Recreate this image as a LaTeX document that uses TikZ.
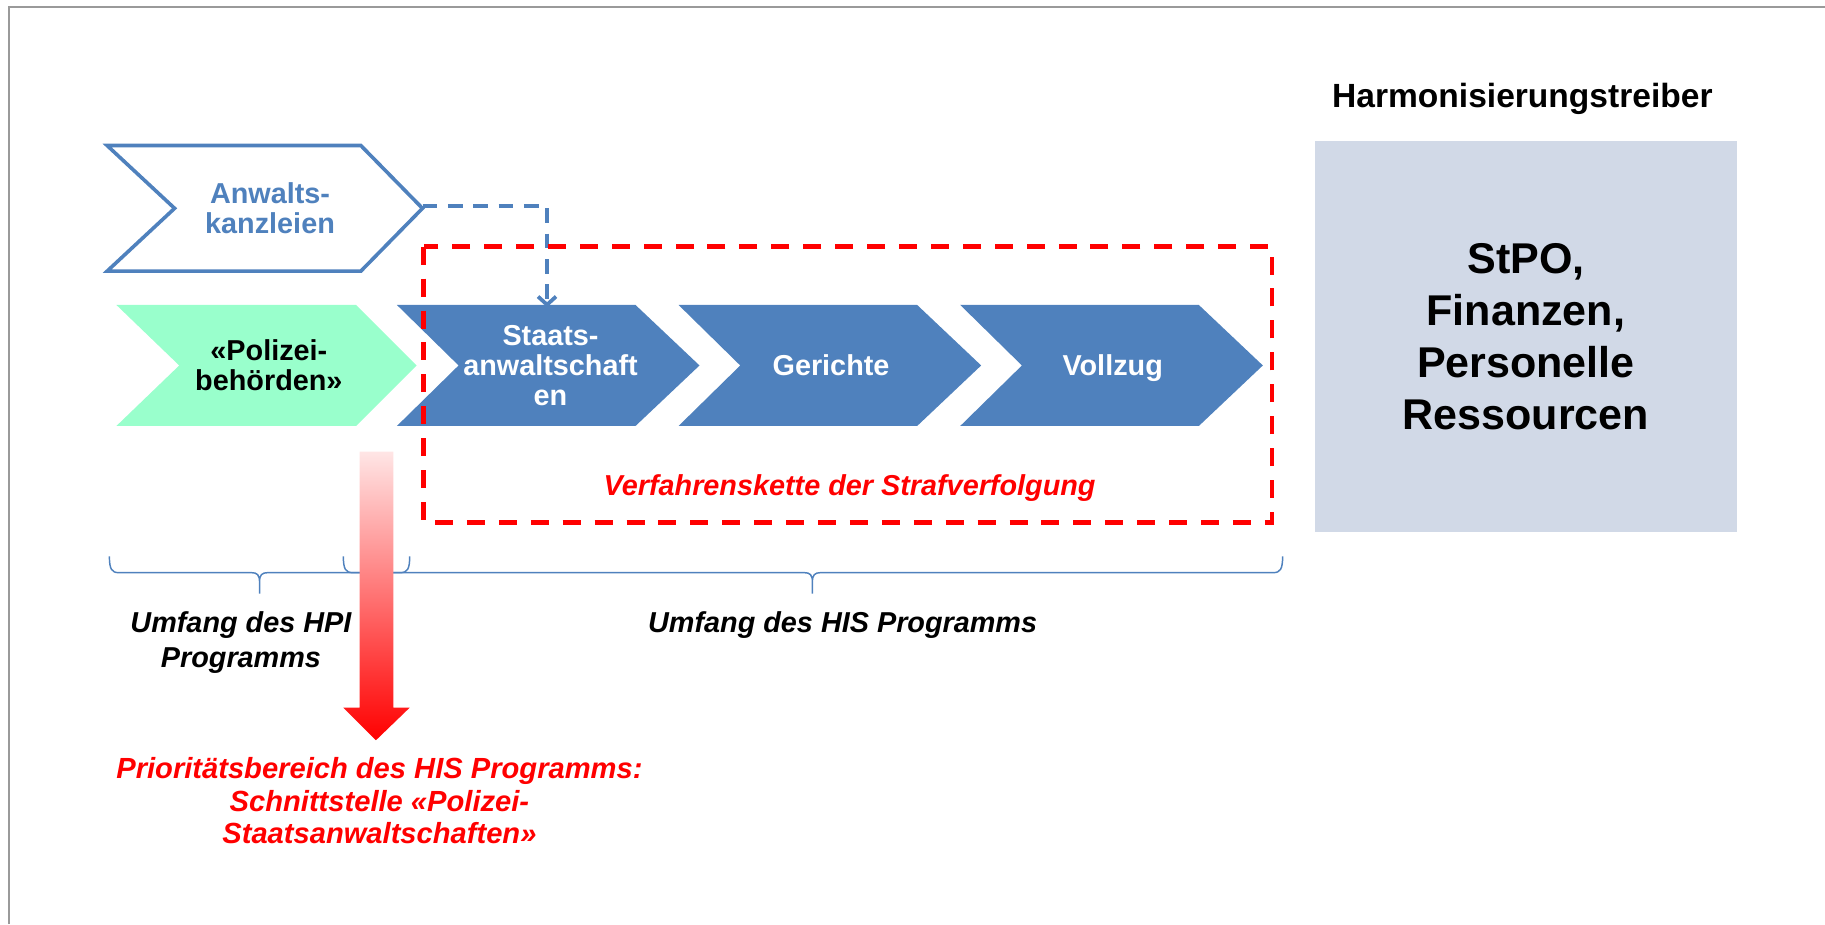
\documentclass[tikz,border=0pt]{standalone}
\usepackage{fontspec}
\setmainfont{Liberation Sans}
\usepackage{xcolor}
\usepackage{tikz}
\usetikzlibrary{arrows.meta}
\usetikzlibrary{calc}

\definecolor{chainblue}{HTML}{4F81BD}
\definecolor{policegreen}{HTML}{99FFCC}
\definecolor{driverbox}{HTML}{D1D9E7}
\definecolor{framegray}{HTML}{9A9A9A}

\begin{document}
\begin{tikzpicture}[x=0.025cm, y=-0.025cm, semithick]
	\tikzstyle{chevtext}=[align=center, inner sep=0pt, font=\fontsize{17.6}{18.5}\selectfont\bfseries]
	\tikzstyle{scopetext}=[align=center, inner sep=0pt, font=\fontsize{17.6}{21}\selectfont\bfseries\itshape]
	\tikzstyle{scopebrace}=[draw=chainblue, line width=0.9pt]
	\useasboundingbox (0,0) rectangle (1568,794);
	\draw[framegray, line width=1pt] (8,794) -- (8,6) -- (1568,6);

	% Anwaltskanzleien
	\draw[chainblue, line width=2.2pt, fill=white]
		(92,125) -- (310,125) -- (363,179) -- (310,233) -- (92,233) -- (150,179) -- cycle;
	\node[chevtext, text=chainblue] (anw) at (232,179) {Anwalts-\\kanzleien};
	\coordinate (anwtip) at (363,177);
	\coordinate (statop) at (470,264);

	% Polizei
	\fill[policegreen]
		(100,262) -- (306,262) -- (358,314) -- (306,366) -- (100,366) -- (154,314) -- cycle;
	\node[chevtext] (pol) at (231,314) {«Polizei-\\behörden»};

	% Verfahrenskette
	\foreach \x in {341,583,825}
		\fill[chainblue] (\x,262) -- ++(205,0) -- ++(55,52) -- ++(-55,52) -- ++(-205,0) -- ++(53,-52) -- cycle;
	\node[chevtext, text=white] (sta) at (473,314) {Staats-\\anwaltschaft\\en};
	\node[chevtext, text=white] (ger) at (714,314) {Gerichte};
	\node[chevtext, text=white] (vol) at (956,316) {Vollzug};

	\draw[chainblue, line width=2.3pt, dash pattern=on 9pt off 6.5pt,
		-{Straight Barb[length=5pt,width=11pt]}] (anwtip) -| (statop);

	\draw[red, line width=2.8pt, dash pattern=on 11pt off 8.5pt] (364,212) rectangle (1093,449);
	\node[scopetext, text=red] (kette) at (730,419) {Verfahrenskette der Strafverfolgung};

	% Harmonisierungstreiber
	\node[font=\fontsize{20.5}{24}\selectfont\bfseries, inner sep=0pt] (drvtitle) at (1308,85) {Harmonisierungstreiber};
	\node[fill=driverbox, minimum width=9.05cm, minimum height=8.4cm, align=center,
		font=\fontsize{26.3}{31.8}\selectfont\bfseries] (drv) at (1311,289) {StPO,\\Finanzen,\\Personelle\\Ressourcen};

	% Umfang
	\draw[scopebrace] (94,478) .. controls (94,489) and (96,492) .. (102,492) -- (216,492)
		.. controls (221,492) and (223,494) .. (223,500) -- (223,510)
		(223,500) .. controls (223,494) and (225,492) .. (230,492) -- (344,492)
		.. controls (350,492) and (352,489) .. (352,478);
	\draw[scopebrace] (295,478) .. controls (295,489) and (297,492) .. (303,492) -- (691,492)
		.. controls (696,492) and (698,494) .. (698,500) -- (698,510)
		(698,500) .. controls (698,494) and (700,492) .. (705,492) -- (1094,492)
		.. controls (1100,492) and (1102,489) .. (1102,478);

	\shade[top color=red!10, bottom color=red]
		(309,388) -- (338,388) -- (338,608) -- (352,608) -- (323,636) -- (295,608) -- (309,608) -- cycle;

	\node[scopetext] (hpi) at (207,552) {Umfang des HPI\\Programms};
	\node[scopetext] (his) at (724,537) {Umfang des HIS Programms};
	\node[scopetext, text=red, font=\fontsize{17.8}{20}\selectfont\bfseries\itshape] (prio) at (326,688)
		{Prioritätsbereich des HIS Programms:\\Schnittstelle «Polizei-\\Staatsanwaltschaften»};
\end{tikzpicture}
\end{document}
